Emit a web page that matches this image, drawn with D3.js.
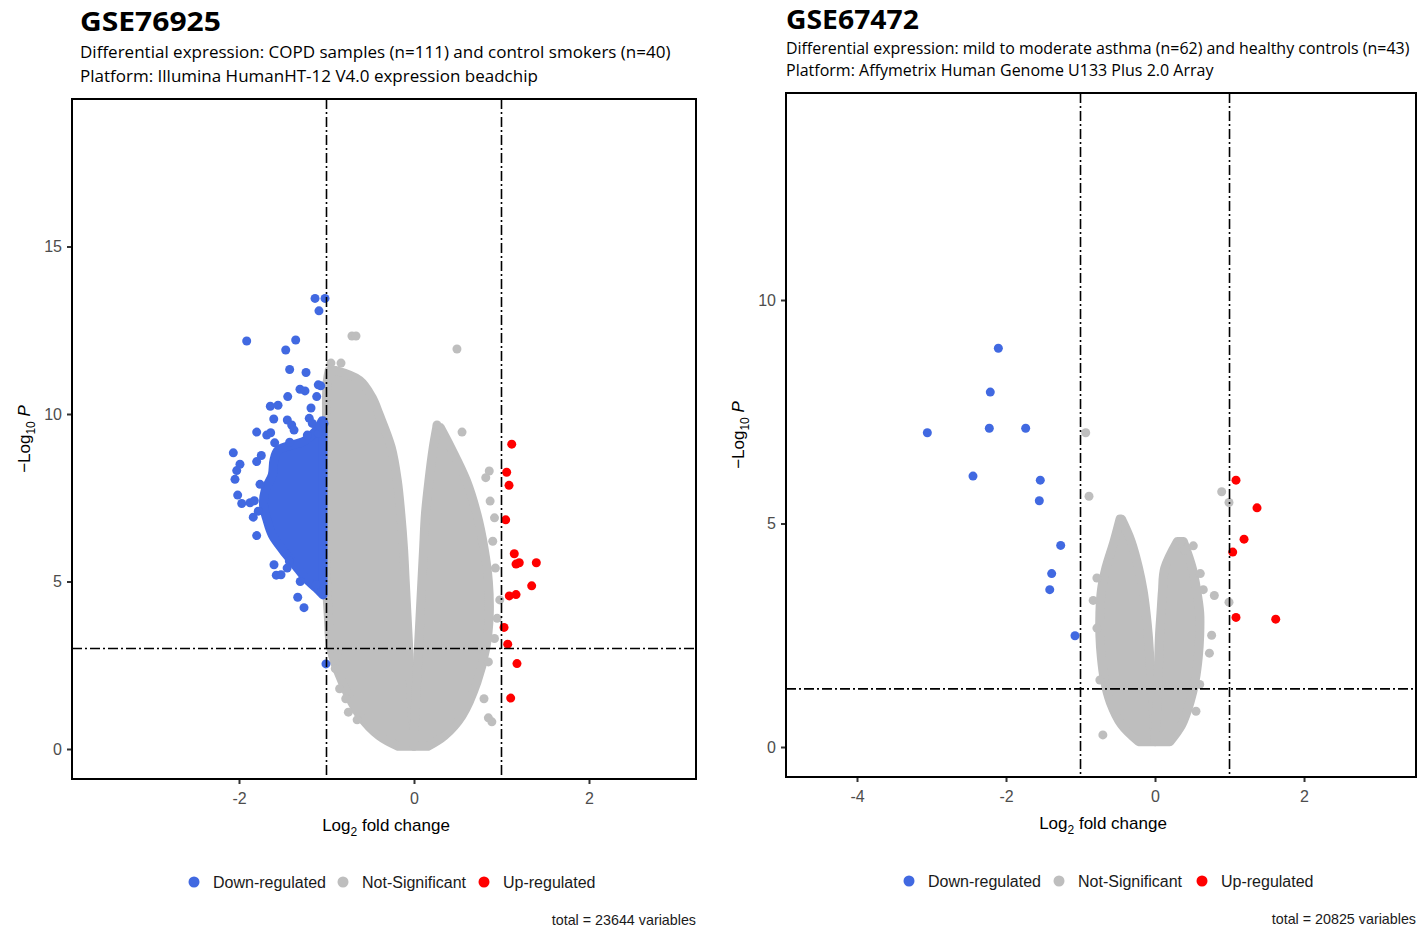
<!DOCTYPE html>
<html>
<head>
<meta charset="utf-8">
<script src="https://cdn.jsdelivr.net/npm/d3@7/dist/d3.min.js"></script>
<style>
  html, body { margin: 0; padding: 0; background: #fff; }
  svg { display: block; }
</style>
</head>
<body>
<svg id="chart" width="1418" height="931"></svg>
<script>
// ---------- GSE76925 (COPD vs control smokers) ----------
// Individually resolved down-regulated genes: log2FC and -log10 P
const copdDownX = [-1.131,-1.017,-1.086,-1.912,-1.352,-1.466,-1.421,-1.234,-1.094,-1.066,-1.303,-1.246,-1.443,-1.112,-1.642,-1.554,-1.177,-1.603,-1.448,-1.398,-1.371,-1.197,-1.162,-1.798,-1.683,-1.638,-1.094,-1.074,-1.029,-1.219,-1.592,-1.421,-2.065,-1.745,-1.798,-1.989,-2.026,-2.046,-2.015,-1.969,-1.874,-1.825,-1.837,-1.798,-1.425,-1.574,-1.329,-1.257,-1.006,-1.52,-1.6,-1.12,-1.05,-1.3,-1.45,-1.76,-1.78];
const copdDownY = [13.45,13.45,13.08,12.18,12.21,11.91,11.33,11.24,10.87,10.84,10.74,10.69,10.52,10.52,10.23,10.26,10.18,9.85,9.82,9.67,9.52,9.87,9.72,9.46,9.37,9.44,9.42,9.62,9.72,9.37,9.14,9.16,8.84,8.76,8.58,8.50,8.31,8.05,7.58,7.33,7.35,7.41,6.92,6.37,5.61,5.19,4.53,4.22,2.54,5.2,5.5,4.9,4.7,5.0,5.4,7.9,7.1];
// Dense core of down-regulated genes: left boundary per -log10 P level (right boundary is the FC cut-off)
const copdDownCoreY = [9.80,9.50,9.20,8.93,8.63,8.18,7.73,7.28,6.84,6.39,5.94,5.49,5.10,4.81,4.60];
const copdDownCoreL = [-1.05,-1.12,-1.25,-1.55,-1.60,-1.62,-1.70,-1.72,-1.68,-1.62,-1.50,-1.36,-1.24,-1.12,-1.04];
// Up-regulated genes
const copdUpX = [1.117,1.059,1.086,1.048,1.146,1.166,1.203,1.398,1.345,1.089,1.166,1.029,1.071,1.177,1.105];
const copdUpY = [9.10,8.26,7.87,6.84,5.83,5.52,5.56,5.56,4.87,4.57,4.61,3.63,3.13,2.55,1.52];
// Not-significant genes: dense cloud envelopes (negative and positive FC arms)
const copdNsLeftY = [11.3,11.0,10.5,10.0,9.0,8.0,7.0,6.0,5.0,4.0,3.0,2.0,1.0,0.4,0.08];
const copdNsLeftL = [-0.97,-0.99,-1.0,-1.0,-1.0,-1.0,-1.0,-1.0,-1.0,-0.98,-0.95,-0.82,-0.62,-0.40,-0.18];
const copdNsLeftR = [-0.90,-0.62,-0.48,-0.40,-0.26,-0.19,-0.15,-0.12,-0.10,-0.08,-0.06,-0.04,-0.02,0.0,0.0];
const copdNsRightY = [9.6,9.0,8.0,7.0,6.0,5.0,4.0,3.0,2.0,1.0,0.4,0.08];
const copdNsRightL = [0.26,0.22,0.17,0.13,0.11,0.09,0.07,0.05,0.03,0.01,0.0,0.0];
const copdNsRightR = [0.30,0.42,0.60,0.72,0.80,0.85,0.86,0.82,0.72,0.55,0.35,0.16];
// Not-significant genes outside the dense cloud
const copdNsX = [-0.709,-0.663,0.491,-0.949,-0.834,0.263,0.549,0.86,0.82,0.87,0.92,0.90,0.93,0.98,0.95,0.92,0.85,0.80,0.85,0.89,-0.90,-0.85,-0.75,-0.65,-0.78,-0.87];
const copdNsY = [12.33,12.33,11.94,11.52,11.52,9.67,9.46,8.3,8.1,7.4,6.9,6.2,5.4,4.45,3.9,3.3,2.6,1.5,0.93,0.81,2.4,1.8,1.1,0.87,1.5,2.9];

// ---------- GSE67472 (asthma vs healthy controls) ----------
const asthmaDownX = [-2.103,-2.211,-2.224,-1.736,-3.056,-2.443,-1.540,-1.553,-1.266,-1.387,-1.413,-1.074];
const asthmaDownY = [8.92,7.94,7.13,7.13,7.03,6.06,5.97,5.51,4.51,3.88,3.52,2.49];
const asthmaUpX = [1.087,1.369,1.195,1.043,1.087,1.620];
const asthmaUpY = [5.97,5.35,4.65,4.36,2.90,2.86];
const asthmaNsLeftY = [5.1,4.6,4.0,3.5,3.0,2.5,2.0,1.5,1.0,0.5,0.12];
const asthmaNsLeftL = [-0.47,-0.55,-0.66,-0.72,-0.74,-0.74,-0.72,-0.68,-0.60,-0.45,-0.22];
const asthmaNsLeftR = [-0.45,-0.32,-0.22,-0.16,-0.12,-0.09,-0.07,-0.05,-0.03,-0.01,0.0];
const asthmaNsRightY = [4.6,4.0,3.5,3.0,2.5,2.0,1.5,1.0,0.5,0.12];
const asthmaNsRightL = [0.30,0.13,0.10,0.08,0.06,0.05,0.04,0.03,0.01,0.0];
const asthmaNsRightR = [0.38,0.50,0.56,0.60,0.60,0.58,0.54,0.47,0.36,0.20];
const asthmaNsX = [-0.930,-0.886,0.895,0.993,0.514,0.608,0.648,0.796,0.993,-0.78,-0.83,-0.78,-0.74,-0.70,-0.60,0.76,0.73,0.60,0.55,0.40,0.35];
const asthmaNsY = [7.03,5.61,5.71,5.47,4.50,3.88,3.52,3.39,3.24,3.78,3.28,2.66,1.50,0.27,4.3,2.5,2.1,1.4,0.8,4.4,4.6];

// ---------- shared text ----------
const legendLabels = ["Down-regulated","Not-Significant","Up-regulated"];
const xTicksCopd = [-2,0,2];
const yTicksCopd = [0,5,10,15];
const xTicksAsthma = [-4,-2,0,2];
const yTicksAsthma = [0,5,10];

const COL_DOWN = "#4169E1", COL_NS = "#BEBEBE", COL_UP = "#FF0000";
const zip = (xs, ys) => xs.map((x, i) => ({x, y: ys[i]}));
const AXIS_FONT = "'Liberation Sans', Arial, sans-serif";
const HEAD_FONT = "'Open Sans', sans-serif";

const svg = d3.select("#chart");
svg.append("rect").attr("width",1418).attr("height",931).attr("fill","#fff");

// Heading text squeezed horizontally to a set width (condensed look)
function fittedText(parent, str, x0, yBase, size, weight, width) {
  const t = parent.append("text").attr("x", 0).attr("y", 0)
    .attr("font-family", HEAD_FONT).attr("font-weight", weight)
    .attr("font-size", size).attr("fill", "#000").text(str);
  const natural = t.node().getComputedTextLength();
  t.attr("transform", `translate(${x0},${yBase}) scale(${width / natural},1)`);
  return t;
}

function panel(cfg) {
  const g = svg.append("g");
  const x = d3.scaleLinear().domain(cfg.xDomain).range([cfg.left, cfg.right]);
  const y = d3.scaleLinear().domain(cfg.yDomain).range([cfg.bottom, cfg.top]);
  const R = 4.5;

  // headings
  fittedText(g, cfg.title, cfg.textX, cfg.titleY, 27, 700, cfg.titleW);
  cfg.sub.forEach((s, i) => fittedText(g, s, cfg.textX, cfg.subY[i], 16.5, 400, cfg.subW[i]));

  const clipId = "clip-" + cfg.title;
  g.append("clipPath").attr("id", clipId).append("rect")
    .attr("x", cfg.left).attr("y", cfg.top)
    .attr("width", cfg.right - cfg.left).attr("height", cfg.bottom - cfg.top);
  const plot = g.append("g").attr("clip-path", `url(#${clipId})`);

  // dense cloud areas
  const area = d3.area().curve(d3.curveCatmullRom)
    .y(d => y(d.v)).x0(d => x(d.l)).x1(d => x(d.r));
  const cloud = (vs, ls, rs, col) => {
    const data = vs.map((v, i) => ({v, l: ls[i], r: rs[i]}));
    plot.append("path").datum(data).attr("d", area)
      .attr("fill", col).attr("stroke", col).attr("stroke-width", 2*R)
      .attr("stroke-linejoin","round");
  };
  cfg.nsClouds.forEach(c => cloud(c[0], c[1], c[2], COL_NS));
  const dots = (pts, col) => plot.append("g").selectAll("circle").data(pts).join("circle")
    .attr("cx", d => x(d.x)).attr("cy", d => y(d.y)).attr("r", R).attr("fill", col);
  dots(cfg.ns, COL_NS);
  if (cfg.downCore) {
    const [vs, ls] = cfg.downCore;
    cloud(vs, ls, vs.map(() => cfg.fcCut[0] - 0.04), COL_DOWN);
  }
  dots(cfg.down, COL_DOWN);
  dots(cfg.up, COL_UP);

  // cut-off lines
  const dash = "10,3,2,3";
  cfg.fcCut.forEach(v => {
    plot.append("line").attr("x1", x(v)).attr("x2", x(v)).attr("y1", cfg.top).attr("y2", cfg.bottom)
      .attr("stroke","#000").attr("stroke-width",1.6).attr("stroke-dasharray", dash);
  });
  plot.append("line").attr("x1", cfg.left).attr("x2", cfg.right)
    .attr("y1", y(cfg.pCut)).attr("y2", y(cfg.pCut))
    .attr("stroke","#000").attr("stroke-width",1.6).attr("stroke-dasharray", dash);

  // axes
  const fmt = d => String(d);
  const xa = g.append("g").attr("transform", `translate(0,${cfg.bottom})`)
    .call(d3.axisBottom(x).tickValues(cfg.xTicks).tickSize(5).tickPadding(9).tickFormat(fmt));
  const ya = g.append("g").attr("transform", `translate(${cfg.left},0)`)
    .call(d3.axisLeft(y).tickValues(cfg.yTicks).tickSize(5).tickPadding(5).tickFormat(fmt));
  [xa, ya].forEach(a => {
    a.select(".domain").remove();
    a.selectAll(".tick line").attr("stroke","#333").attr("stroke-width",2);
    a.selectAll(".tick text").attr("fill","#4D4D4D").attr("font-size",16)
      .attr("font-family", AXIS_FONT);
  });

  // frame
  g.append("rect").attr("x", cfg.left).attr("y", cfg.top)
    .attr("width", cfg.right - cfg.left).attr("height", cfg.bottom - cfg.top)
    .attr("fill","none").attr("stroke","#000").attr("stroke-width",2);

  // axis titles
  const xt = g.append("text").attr("x", (cfg.left + cfg.right)/2 + 2).attr("y", cfg.bottom + 52)
    .attr("text-anchor","middle").attr("font-family", AXIS_FONT)
    .attr("font-size",17).attr("fill","#000");
  xt.append("tspan").text("Log");
  xt.append("tspan").attr("font-size",12).attr("dy",5).text("2");
  xt.append("tspan").attr("dy",-5).text(" fold change");

  const yt = g.append("text")
    .attr("transform", `translate(${cfg.left - 42},${(cfg.top + cfg.bottom)/2}) rotate(-90)`)
    .attr("text-anchor","middle").attr("font-family", AXIS_FONT)
    .attr("font-size",17).attr("fill","#000");
  yt.append("tspan").text("\u2212Log");
  yt.append("tspan").attr("font-size",12).attr("dy",5).text("10");
  yt.append("tspan").attr("dy",-5).attr("font-style","italic").text(" P");

  // legend
  const cols = [COL_DOWN, COL_NS, COL_UP];
  cfg.legendX.forEach((lx, i) => {
    g.append("circle").attr("cx", lx).attr("cy", cfg.legendY).attr("r", 5.5).attr("fill", cols[i]);
    g.append("text").attr("x", lx + 19).attr("y", cfg.legendY + 6)
      .attr("font-family", AXIS_FONT).attr("font-size",16)
      .attr("fill","#1a1a1a").text(legendLabels[i]);
  });
  g.append("text").attr("x", cfg.right).attr("y", cfg.legendY + 43).attr("text-anchor","end")
    .attr("font-family", AXIS_FONT).attr("font-size",14.3)
    .attr("fill","#1a1a1a").text(cfg.caption);
}

panel({
  title: "GSE76925",
  textX: 80, titleY: 31, titleW: 141,
  sub: ["Differential expression: COPD samples (n=111) and control smokers (n=40)",
        "Platform: Illumina HumanHT-12 V4.0 expression beadchip"],
  subY: [58, 82], subW: [591, 458],
  left: 72, right: 696, top: 99, bottom: 779,
  xDomain: [-3.9086, 3.2229], yDomain: [-0.8955, 19.403],
  xTicks: xTicksCopd, yTicks: yTicksCopd,
  fcCut: [-1, 1], pCut: 3,
  down: zip(copdDownX, copdDownY), up: zip(copdUpX, copdUpY), ns: zip(copdNsX, copdNsY),
  downCore: [copdDownCoreY, copdDownCoreL],
  nsClouds: [[copdNsLeftY, copdNsLeftL, copdNsLeftR], [copdNsRightY, copdNsRightL, copdNsRightR]],
  legendX: [194, 343, 484], legendY: 882,
  caption: "total = 23644 variables"
});

panel({
  title: "GSE67472",
  textX: 786, titleY: 29, titleW: 133,
  sub: ["Differential expression: mild to moderate asthma (n=62) and healthy controls (n=43)",
        "Platform: Affymetrix Human Genome U133 Plus 2.0 Array"],
  subY: [54, 76], subW: [624, 428],
  left: 786, right: 1416, top: 93, bottom: 777,
  xDomain: [-4.953, 3.503], yDomain: [-0.671, 14.631],
  xTicks: xTicksAsthma, yTicks: yTicksAsthma,
  fcCut: [-1, 1], pCut: 1.301,
  down: zip(asthmaDownX, asthmaDownY), up: zip(asthmaUpX, asthmaUpY), ns: zip(asthmaNsX, asthmaNsY),
  downCore: null,
  nsClouds: [[asthmaNsLeftY, asthmaNsLeftL, asthmaNsLeftR], [asthmaNsRightY, asthmaNsRightL, asthmaNsRightR]],
  legendX: [909, 1059, 1202], legendY: 881,
  caption: "total = 20825 variables"
});
</script>
</body>
</html>
